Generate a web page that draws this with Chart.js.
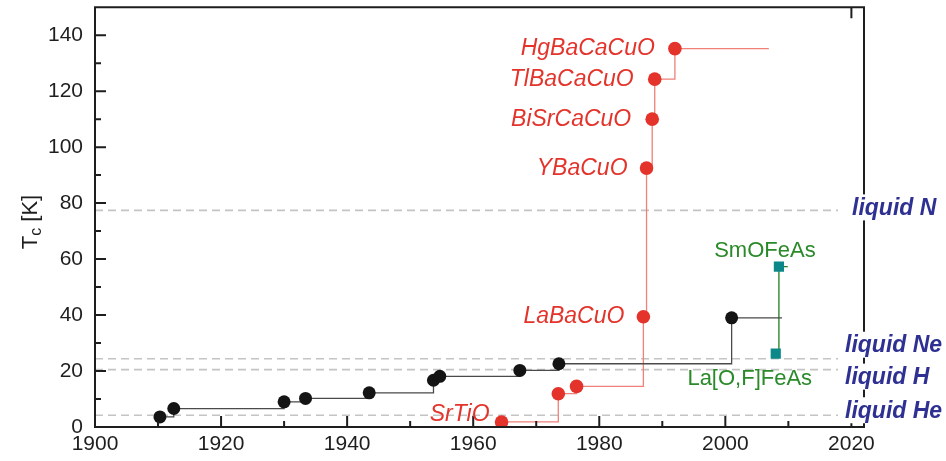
<!DOCTYPE html>
<html><head><meta charset="utf-8">
<script src="https://cdn.jsdelivr.net/npm/chart.js@4.4.0/dist/chart.umd.min.js"></script>
<style>html,body{margin:0;padding:0;background:#fff;} #wrap{width:946px;height:461px;}</style>
</head><body><div id="wrap"><canvas id="c" width="946" height="461"></canvas></div>
<script>
// ---- tick labels ----
const xTicks = [1900, 1920, 1940, 1960, 1980, 2000, 2020];
const xMinorTicks = [1910, 1930, 1950, 1970, 1990, 2010];
const yTicks = [0, 20, 40, 60, 80, 100, 120, 140];
const yMinorTicks = [10, 30, 50, 70, 90, 110, 130];
const topTicks = [2020];

// ---- conventional superconductors (black) ----
const convYears = [1910.3, 1912.5, 1930.0, 1933.4, 1943.5, 1953.7, 1954.7, 1967.4, 1973.6, 2001.0];
const convTc    = [3.6, 6.6, 9.0, 10.2, 12.2, 16.7, 18.1, 20.2, 22.6, 39.0];
const convEnd   = [2009.0, 39.0];

// ---- oxides / cuprates (red) ----
const oxideNames = ['SrTiO', '', '', 'LaBaCuO', 'YBaCuO', 'BiSrCaCuO', 'TlBaCaCuO', 'HgBaCaCuO'];
const oxideYears = [1964.5, 1973.5, 1976.4, 1987.0, 1987.5, 1988.4, 1988.8, 1992.0];
const oxideTc    = [1.8, 11.9, 14.5, 39.4, 92.5, 110.0, 124.3, 135.2];
const oxideEnd   = [2006.9, 135.2];

// ---- iron pnictides (green) ----
const pnicNames = ['La[O,F]FeAs', 'SmOFeAs'];
const pnicYears = [2008.0, 2008.5];
const pnicTc    = [26.2, 57.3];
const pnicEnd   = [2009.9, 57.3];

// ---- coolant reference lines ----
const liquidNames = ['liquid N', 'liquid Ne', 'liquid H', 'liquid He'];
const liquidTc    = [77.4, 24.4, 20.5, 4.2];

// label placement (pixel offsets, style only)
const oxideLabelOffsets = [[-12, -7], null, null, [-19, 0], [-19, 0], [-21, 0], [-21, 0], [-20, 0]];
const pnicLabelOffsets = [[-26, 25], [-14, -16]];
const liquidLabelOffsets = [[-2, 852], [-13, 845], [8, 845], [-4, 845]];

const FONT = "'Liberation Sans', Arial, Helvetica, sans-serif";
const RED = '#e3332b', BLACK = '#141414', TEAL = '#0d8888', GREEN = '#2a8a2a', BLUE = '#2e3192';

function series(xs, ys, end) {
  const d = xs.map((x, i) => ({x: x, y: ys[i]}));
  d.push({x: end[0], y: end[1]});
  return d;
}
function radii(n, r) { const a = new Array(n).fill(r); a.push(0); return a; }

const framePlugin = {
  id: 'frame',
  beforeDatasetsDraw(chart) {
    const ctx = chart.ctx, xs = chart.scales.x, ys = chart.scales.y;
    const {left, right} = chart.chartArea;
    ctx.save();
    ctx.strokeStyle = '#c4c4c4';
    ctx.lineWidth = 1.6;
    ctx.setLineDash([8, 5]);
    liquidTc.forEach(v => {
      const y = ys.getPixelForValue(v);
      ctx.beginPath(); ctx.moveTo(left, y); ctx.lineTo(838, y); ctx.stroke();
    });
    ctx.restore();
  },
  afterDatasetsDraw(chart) {
    const ctx = chart.ctx, xs = chart.scales.x, ys = chart.scales.y;
    const {left, right, top, bottom} = chart.chartArea;
    ctx.save();
    ctx.strokeStyle = '#1e1e1e';
    ctx.lineWidth = 2;
    ctx.beginPath();
    ctx.moveTo(left, top); ctx.lineTo(right, top); ctx.lineTo(right, bottom);
    ctx.lineTo(left, bottom); ctx.closePath(); ctx.stroke();
    // ticks (inward)
    ctx.beginPath();
    xTicks.forEach(v => { const x = xs.getPixelForValue(v); if (v === 1900) return; ctx.moveTo(x, bottom); ctx.lineTo(x, bottom - 11); });
    xMinorTicks.forEach(v => { const x = xs.getPixelForValue(v); ctx.moveTo(x, bottom); ctx.lineTo(x, bottom - 6); });
    topTicks.forEach(v => { const x = xs.getPixelForValue(v); ctx.moveTo(x, top); ctx.lineTo(x, top + 11); });
    yTicks.forEach(v => { const y = ys.getPixelForValue(v); if (v === 0) return; ctx.moveTo(left, y); ctx.lineTo(left + 11, y); });
    yMinorTicks.forEach(v => { const y = ys.getPixelForValue(v); ctx.moveTo(left, y); ctx.lineTo(left + 6, y); });
    ctx.stroke();

    // liquid labels with white boxes
    ctx.font = 'bold italic 23px ' + FONT;
    ctx.textBaseline = 'middle';
    ctx.textAlign = 'left';
    liquidNames.forEach((n, i) => {
      const y = ys.getPixelForValue(liquidTc[i]) + liquidLabelOffsets[i][0];
      const x = liquidLabelOffsets[i][1];
      ctx.fillStyle = '#fff';
      ctx.fillRect(x - 3, y - 14, 946 - x + 3, 26);
      ctx.fillStyle = BLUE;
      ctx.fillText(n, x, y);
    });

    // oxide labels
    ctx.font = 'italic 23px ' + FONT;
    ctx.fillStyle = RED;
    ctx.textAlign = 'right';
    oxideNames.forEach((n, i) => {
      if (!n) return;
      const o = oxideLabelOffsets[i];
      ctx.fillText(n, xs.getPixelForValue(oxideYears[i]) + o[0], ys.getPixelForValue(oxideTc[i]) + o[1]);
    });
    // pnictide labels
    ctx.font = '22px ' + FONT;
    ctx.fillStyle = GREEN;
    ctx.textAlign = 'center';
    pnicNames.forEach((n, i) => {
      const o = pnicLabelOffsets[i];
      ctx.fillText(n, xs.getPixelForValue(pnicYears[i]) + o[0], ys.getPixelForValue(pnicTc[i]) + o[1]);
    });

    // y axis title T_c [K]
    ctx.save();
    ctx.translate(30, 222);
    ctx.rotate(-Math.PI / 2);
    ctx.fillStyle = '#1e1e1e';
    ctx.textAlign = 'left';
    ctx.textBaseline = 'alphabetic';
    ctx.font = '22px ' + FONT;
    const wT = ctx.measureText('T').width;
    const w1 = ctx.measureText(' [K]').width;
    ctx.font = '16px ' + FONT;
    const wc = ctx.measureText('c').width;
    const total = wT + wc + w1;
    let x0 = -total / 2;
    ctx.font = '22px ' + FONT;
    ctx.fillText('T', x0, 7);
    ctx.font = '16px ' + FONT;
    ctx.fillText('c', x0 + wT, 11);
    ctx.font = '22px ' + FONT;
    ctx.fillText(' [K]', x0 + wT + wc, 7);
    ctx.restore();
    ctx.restore();
  }
};

new Chart(document.getElementById('c'), {
  type: 'scatter',
  data: {
    datasets: [
      {
        data: series(convYears, convTc, convEnd),
        showLine: true, stepped: 'before',
        borderColor: '#4a4a4a', borderWidth: 1.3,
        pointRadius: radii(convYears.length, 6.5),
        pointBackgroundColor: BLACK, pointBorderColor: BLACK, pointBorderWidth: 0
      },
      {
        data: series(oxideYears, oxideTc, oxideEnd),
        showLine: true, stepped: 'before',
        borderColor: '#f08078', borderWidth: 1.3,
        pointRadius: radii(oxideYears.length, 6.8),
        pointBackgroundColor: RED, pointBorderColor: RED, pointBorderWidth: 0
      },
      {
        data: series(pnicYears, pnicTc, pnicEnd),
        showLine: true, stepped: 'before',
        borderColor: '#1f7f1f', borderWidth: 1.3,
        pointStyle: 'rect',
        pointRadius: radii(pnicYears.length, 7.2),
        pointBackgroundColor: TEAL, pointBorderColor: TEAL, pointBorderWidth: 0
      }
    ]
  },
  options: {
    responsive: false,
    animation: false,
    devicePixelRatio: 1,
    events: [],
    layout: {padding: {left: 0, right: 82, top: 6, bottom: 0}},
    plugins: {legend: {display: false}, tooltip: {enabled: false}},
    scales: {
      x: {
        type: 'linear', min: 1900, max: 2022,
        afterBuildTicks: s => { s.ticks = xTicks.map(v => ({value: v})); },
        afterFit: s => { s.height = 34; s.paddingLeft = 0; s.paddingRight = 0; },
        grid: {display: false, drawTicks: false},
        border: {display: false},
        ticks: {font: {family: FONT, size: 21}, color: '#1e1e1e', padding: 5, maxRotation: 0, autoSkip: false,
                callback: v => String(v)}
      },
      y: {
        type: 'linear', min: 0, max: 150,
        afterBuildTicks: s => { s.ticks = yTicks.map(v => ({value: v})); },
        afterFit: s => { s.width = 95; s.paddingTop = 0; s.paddingBottom = 0; },
        grid: {display: false, drawTicks: false},
        border: {display: false},
        ticks: {font: {family: FONT, size: 21}, color: '#1e1e1e', padding: 12, autoSkip: false,
                callback: v => String(v)}
      }
    }
  },
  plugins: [framePlugin]
});
</script>
</body></html>
